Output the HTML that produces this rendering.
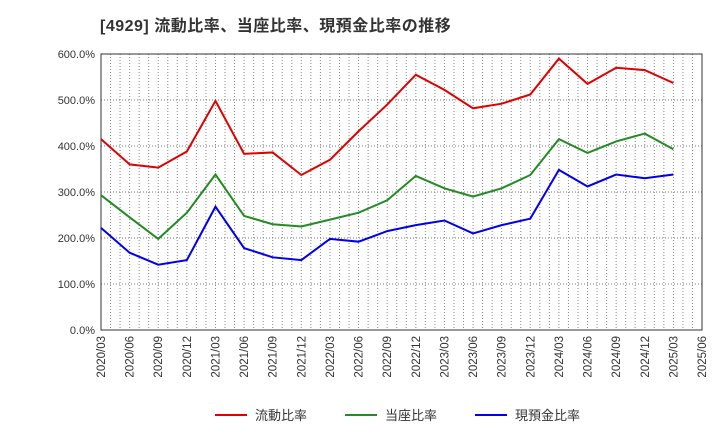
<!DOCTYPE html>
<html><head><meta charset="utf-8"><style>
body{margin:0;background:#fff;font-family:"Liberation Sans","Noto Sans CJK JP",sans-serif}
</style></head><body>
<svg id="c" width="720" height="440" xmlns="http://www.w3.org/2000/svg">
<text x="100" y="31" font-size="16" letter-spacing="0.5" font-weight="bold" fill="#333" font-family="Liberation Sans, Noto Sans CJK JP, sans-serif">[4929]  流動比率、当座比率、現預金比率の推移</text>
<g id="grid"></g><g id="axes"></g><g id="series"></g><g id="legend"></g>
</svg>
<script>
const categories=["2020/03","2020/06","2020/09","2020/12","2021/03","2021/06","2021/09","2021/12","2022/03","2022/06","2022/09","2022/12","2023/03","2023/06","2023/09","2023/12","2024/03","2024/06","2024/09","2024/12","2025/03"];
const tickLabels=["2020/03","2020/06","2020/09","2020/12","2021/03","2021/06","2021/09","2021/12","2022/03","2022/06","2022/09","2022/12","2023/03","2023/06","2023/09","2023/12","2024/03","2024/06","2024/09","2024/12","2025/03","2025/06"];
const yTicks=[0,100,200,300,400,500,600];
const currentRatio=[415,360,353,388,498,383,386,337,370,432,490,555,522,482,492,512,590,535,570,565,537];
const quickRatio=[293,245,198,255,338,248,230,225,240,255,282,335,308,290,308,337,415,385,410,427,393];
const cashRatio=[222,168,142,152,268,178,158,152,198,192,215,228,238,210,228,242,348,312,338,330,338];
const NS="http://www.w3.org/2000/svg";
const L=101,R=702,T=54,B=330;
const x=i=>L+(R-L)*i/21;
const y=v=>B-(B-T)*v/600;
function mk(tag,attrs,parent){const e=document.createElementNS(NS,tag);for(const k in attrs)e.setAttribute(k,attrs[k]);parent.appendChild(e);return e;}
const grid=document.getElementById('grid'),axes=document.getElementById('axes'),ser=document.getElementById('series'),leg=document.getElementById('legend');
for(let m=0;m<=63;m++){const xx=L+(R-L)*m/63;const ln=mk('line',{x1:xx,x2:xx,y1:T,y2:B,stroke:'#888','stroke-width':1,'stroke-dasharray':'1,2'},grid);

}
yTicks.forEach(v=>{const ln=mk('line',{x1:L,x2:R,y1:y(v),y2:y(v),stroke:'#777','stroke-width':1,'stroke-dasharray':'1,2'},grid);


const t=mk('text',{x:L-6,y:y(v)+4,'text-anchor':'end','font-size':11,fill:'#333'},axes);t.textContent=v.toFixed(1)+'%';

});
const fr=mk('rect',{x:L,y:T,width:R-L,height:B-T,fill:'none',stroke:'#333','stroke-width':1},axes);


tickLabels.forEach((s,i)=>{const xx=x(i);const t=mk('text',{x:xx+4,y:B+6,'text-anchor':'end','font-size':11.5,fill:'#333',transform:`rotate(-90 ${xx+4} ${B+6})`},axes);t.textContent=s;

});
const series=[[currentRatio,'#e00000','流動比率','current-ratio'],[quickRatio,'#228b22','当座比率','quick-ratio'],[cashRatio,'#0000ee','現預金比率','cash-ratio']];
const lx=[215,345,475];
series.forEach((s,k)=>{const p=mk('polyline',{points:s[0].map((v,i)=>x(i)+','+y(v)).join(' '),fill:'none',stroke:s[1],'stroke-width':2},ser);


const g=mk('g',{},leg);


mk('line',{x1:lx[k],x2:lx[k]+32,y1:415,y2:415,stroke:s[1],'stroke-width':2},g);
const t=mk('text',{x:lx[k]+40,y:420,'font-size':13,fill:'#333'},g);t.textContent=s[2];});
</script>
</body></html>
